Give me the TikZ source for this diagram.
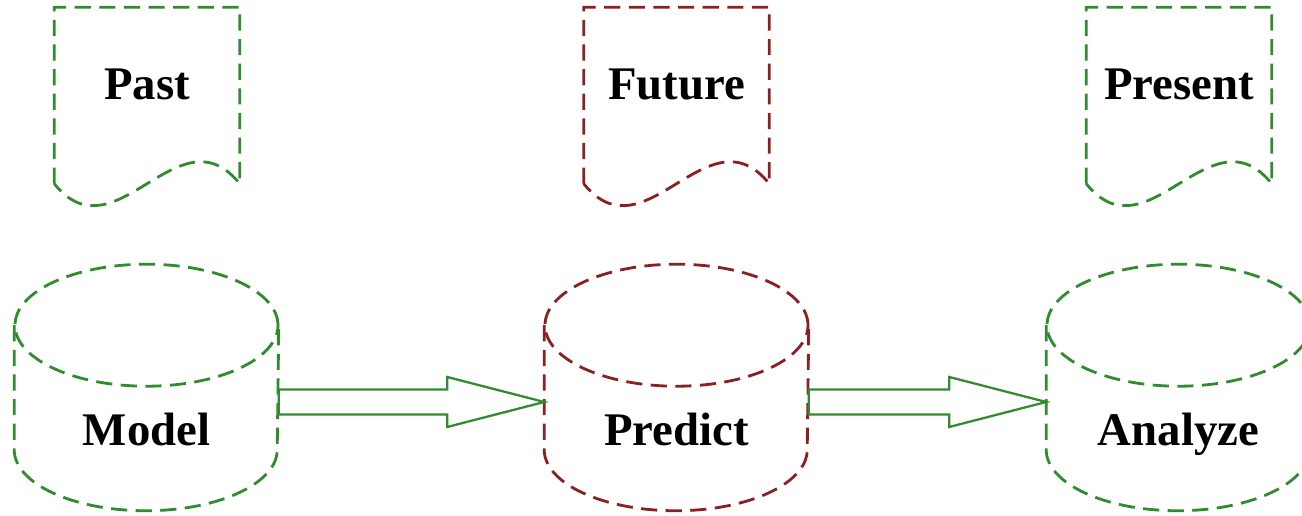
\documentclass[tikz,border=0pt]{standalone}
\usepackage{fontspec}
\setmainfont{Liberation Serif}
\usetikzlibrary{calc}

\definecolor{leafgreen}{RGB}{48,140,46}
\definecolor{brickred}{RGB}{136,34,34}

% Dashed drum around a node: side lines, bottom half ellipse, full top ellipse.
\newcommand\drumline[2]{%
  \draw[outline, #2] ($(#1.north west)+(0,-61)$) -- ($(#1.south west)+(0,61)$)
    arc[start angle=180, end angle=360, x radius=131.5, y radius=61]
    -- ($(#1.north east)+(0,-61)$);
  \draw[outline, #2] ($(#1.north)+(0,-61)$) ellipse[x radius=131.5, y radius=61];
}
% Dashed sheet with a wavy lower edge.
\newcommand\sheetline[2]{%
  \draw[outline, #2] (#1.south west) -- (#1.north west) -- (#1.north east)
    -- (#1.south east) .. controls +(-61,76) and +(61,-76) .. (#1.south west);
}
% Hollow block arrow from one drum to the next.
\newcommand\blockarrow[2]{%
  \draw[hollow] ($(#1.east)+(0,-2)$) -- ($(#2.west)+(-97,-2)$)
    -- ($(#2.west)+(-97,10.5)$) -- ($(#2.west)+(0,-14.5)$)
    -- ($(#2.west)+(-97,-39.5)$) -- ($(#2.west)+(-97,-27)$)
    -- ($(#1.east)+(0,-27)$) -- cycle;
}

\begin{document}
\begin{tikzpicture}[
  x=0.01cm, y=0.01cm,
  font=\fontsize{13.3}{16}\selectfont\bfseries,
  outline/.style={line width=0.8pt, dash pattern=on 4.6pt off 2.4pt},
  hollow/.style={draw=leafgreen, line width=0.65pt, line join=miter},
  drum/.style={
    minimum width=2.63cm,
    minimum height=2.45cm,
    inner sep=0pt,
    text height=1.15cm,
    text depth=0cm
  },
  sheet/.style={
    minimum width=1.84cm,
    minimum height=1.75cm,
    inner sep=0pt,
    text height=0.35cm,
    text depth=0.26cm
  }
]
  \useasboundingbox (0,0) rectangle (1302,516);

  % Time frames on top.
  \node[sheet] (past)    at (147,420.5)  {Past};
  \node[sheet] (future)  at (676.5,420.5) {Future};
  \node[sheet] (present) at (1179,420.5) {Present};

  \sheetline{past}{leafgreen}
  \sheetline{future}{brickred}
  \sheetline{present}{leafgreen}

  % Steps below.
  \node[drum] (model)   at (146.5,128.5)  {Model};
  \node[drum] (predict) at (676.5,128.5)  {Predict};
  \node[drum] (analyze) at (1178.5,128.5) {Analyze};

  \drumline{model}{leafgreen}
  \drumline{predict}{brickred}
  \drumline{analyze}{leafgreen}

  \blockarrow{model}{predict}
  \blockarrow{predict}{analyze}

\end{tikzpicture}
\end{document}
